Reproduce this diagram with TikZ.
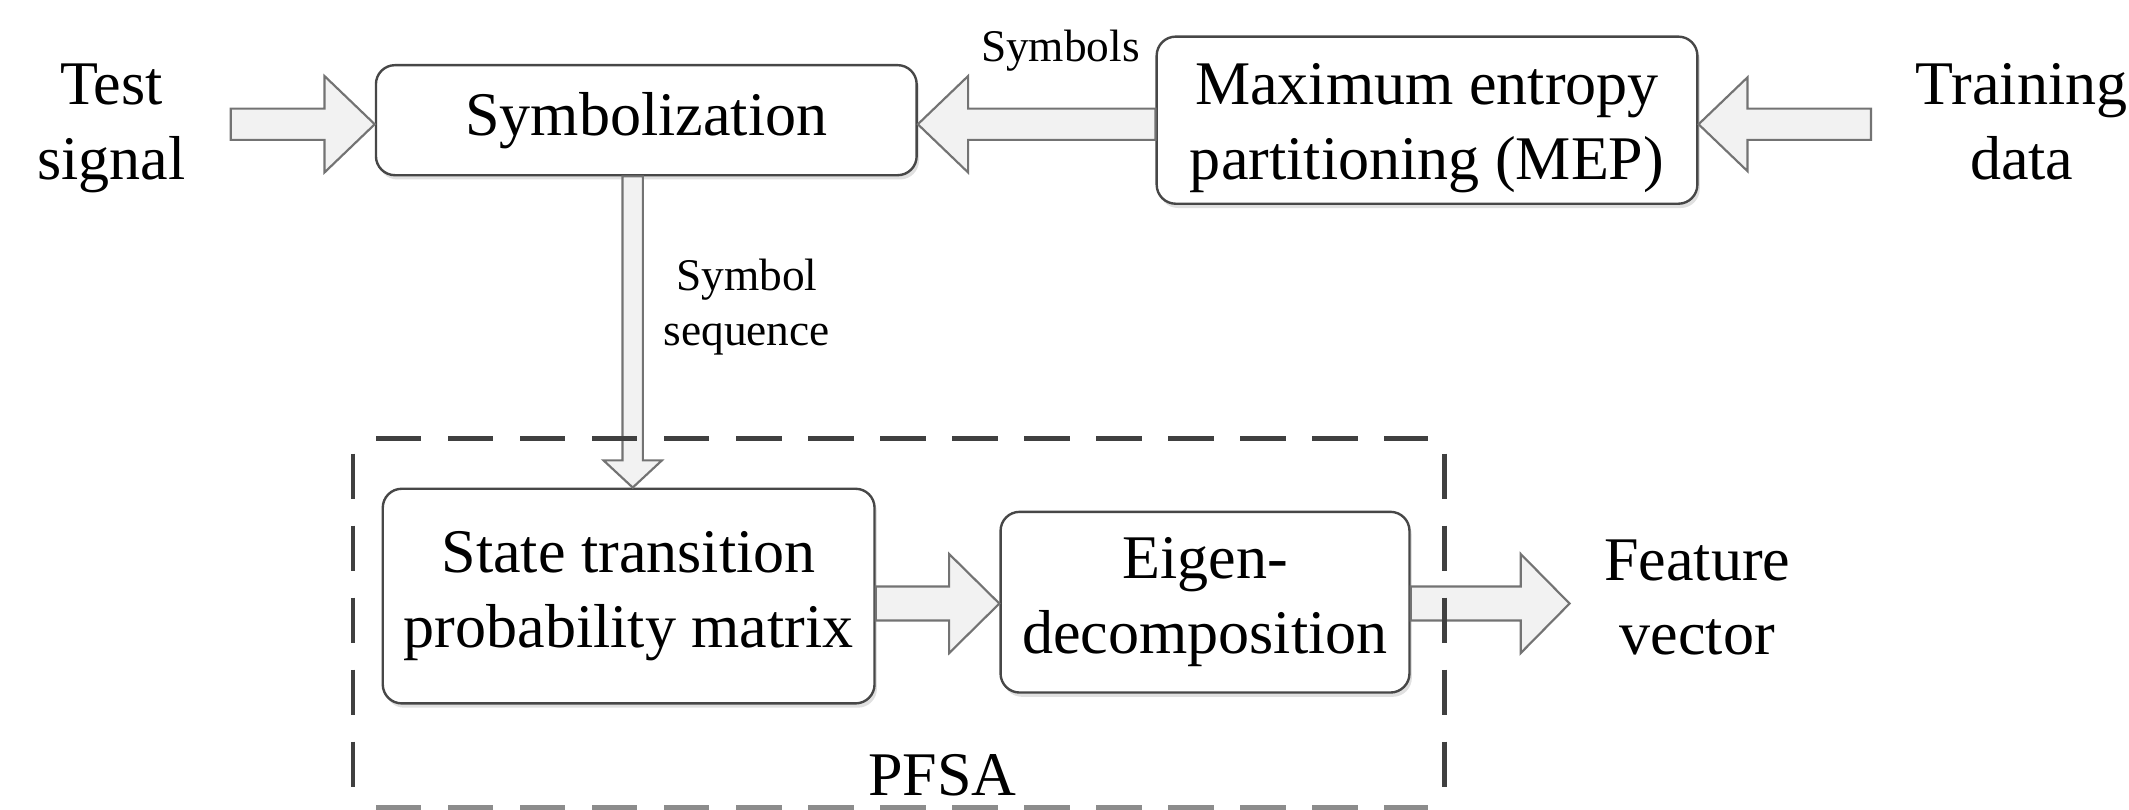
\documentclass[tikz,border=0pt]{standalone}
\usepackage{fontspec}
\setmainfont{Liberation Serif}
\usetikzlibrary{calc,shadows}
\newcommand{\fntL}{\fontsize{13}{15.6}\selectfont}
\newcommand{\fntS}{\fontsize{9.5}{11.4}\selectfont}
% block arrows: #1 tail, #2 tip, #3 shaft half width, #4 head half width, #5 head length
\newcommand{\BlockR}[5]{\draw[barrow] let \p1=(#1), \p2=(#2) in (\x1,{\y2+#3}) -- ({\x2-#5},{\y2+#3}) -- ({\x2-#5},{\y2+#4}) -- (\x2,\y2) -- ({\x2-#5},{\y2-#4}) -- ({\x2-#5},{\y2-#3}) -- (\x1,{\y2-#3}) -- cycle;}
\newcommand{\BlockL}[5]{\draw[barrow] let \p1=(#1), \p2=(#2) in (\x1,{\y2+#3}) -- ({\x2+#5},{\y2+#3}) -- ({\x2+#5},{\y2+#4}) -- (\x2,\y2) -- ({\x2+#5},{\y2-#4}) -- ({\x2+#5},{\y2-#3}) -- (\x1,{\y2-#3}) -- cycle;}
\newcommand{\BlockD}[5]{\draw[barrow] let \p1=(#1), \p2=(#2) in ({\x2-#3},\y1) -- ({\x2-#3},{\y2+#5}) -- ({\x2-#4},{\y2+#5}) -- (\x2,\y2) -- ({\x2+#4},{\y2+#5}) -- ({\x2+#3},{\y2+#5}) -- ({\x2+#3},\y1) -- cycle;}
\tikzset{
  box/.style={draw=black!72, line width=0.5pt, rounded corners=0.14cm, fill=white, align=center, font=\fntL, inner sep=0pt,
    drop shadow={shadow xshift=0.5pt, shadow yshift=-0.9pt, fill=black, opacity=0.12}},
  lbl/.style={align=center, font=\fntL, inner sep=0pt},
  slbl/.style={align=center, font=\fntS, inner sep=0pt},
  barrow/.style={draw=black!55, fill=black!5, line width=0.45pt, line join=miter},
  pfsaline/.style={draw=black!75, line width=1pt, dash pattern=on 0.334cm off 0.196cm}
}
\begin{document}
\begin{tikzpicture}[x=0.01cm, y=-0.01cm]
\useasboundingbox (0,0) rectangle (1568,596);
% nodes
\node[lbl] (tsig) at (82,94.5) {Test\\signal};
\node[box, minimum width=3.98cm, minimum height=0.81cm] (sym) at (476,88.5) {Symbolization};
\node[box, minimum width=3.98cm, minimum height=1.23cm] (mep) at (1051,88.5)
  {\raisebox{-1.5pt}[\height][\depth]{\begin{tabular}{@{}c@{}}Maximum entropy\\partitioning (MEP)\end{tabular}}};
\node[lbl] (train) at (1489,89.5) {Training\\data};
\node[slbl] (symbols) at (781,37) {Symbols};
\node[slbl] (seq) at (550,226) {Symbol\\sequence};
\node[box, minimum width=3.62cm, minimum height=1.58cm] (stp) at (463,439) {State transition\\probability matrix};
\node[box, minimum width=3.01cm, minimum height=1.33cm] (eig) at (887.5,443.5) {Eigen-\\decomposition};
\node[lbl] (feat) at (1250,440) {Feature\\vector};
\node[lbl] (pfsa) at (694,571) {PFSA};
% free ends
\coordinate (tsigend) at (170,91.5);
\coordinate (trainend) at (1378,91.5);
\coordinate (featend) at (1156,444.5);
% block arrows
\BlockR{tsigend}{$(sym.west)+(0,3)$}{0.115cm}{0.355cm}{0.37cm}
\BlockL{mep.west}{$(sym.east)+(0,3)$}{0.115cm}{0.355cm}{0.37cm}
\BlockL{trainend}{$(mep.east)+(0,3)$}{0.115cm}{0.345cm}{0.36cm}
\BlockD{sym.south}{$(stp.north)+(3,0)$}{0.075cm}{0.215cm}{0.20cm}
\BlockR{stp.east}{$(eig.west)+(0,1)$}{0.125cm}{0.365cm}{0.37cm}
\BlockR{eig.east}{featend}{0.125cm}{0.365cm}{0.36cm}
% PFSA dashed frame
\coordinate (ftl) at (277,323);
\coordinate (ftr) at (1052,323);
\coordinate (fbl) at (277,594.5);
\coordinate (fbr) at (1052,594.5);
\coordinate (fl1) at (260,334);
\coordinate (fl2) at (260,585);
\coordinate (fr1) at (1064,334);
\coordinate (fr2) at (1064,585);
\draw[pfsaline] (ftl) -- (ftr);
\draw[pfsaline] (fl1) -- (fl2);
\draw[pfsaline] (fr1) -- (fr2);
\draw[pfsaline, draw=black!45] (fbl) -- (fbr);
\end{tikzpicture}
\end{document}
